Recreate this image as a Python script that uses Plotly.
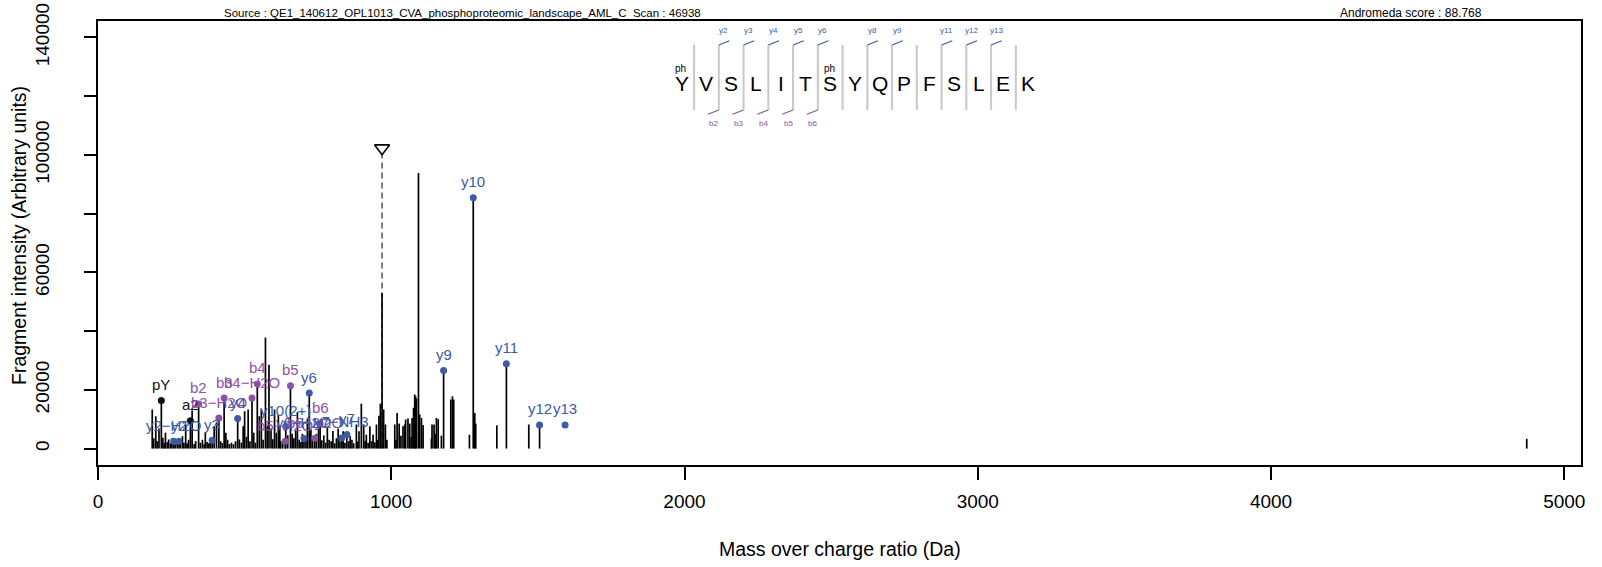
import plotly.graph_objects as go

# ---------------- data ----------------
title_left = "Source : QE1_140612_OPL1013_CVA_phosphoproteomic_landscape_AML_C  Scan : 46938"
title_right = "Andromeda score : 88.768"
x_title = "Mass over charge ratio (Da)"
y_title = "Fragment intensity (Arbitrary units)"

x_tickvals = [0, 1000, 2000, 3000, 4000, 5000]
x_ticktext = ["0", "1000", "2000", "3000", "4000", "5000"]
y_tickvals = [0, 20000, 40000, 60000, 80000, 100000, 120000, 140000]
y_ticktext = ["0", "20000", "", "60000", "", "100000", "", "140000"]

# raw spectrum peaks (m/z, intensity)
peaks_mz = [
    185, 190, 197, 202, 208, 216.0, 221, 226, 230, 236, 241, 247, 252, 258.1, 263, 270,
    276.2, 281, 288, 293, 299, 304, 309, 315.1, 321, 328, 333, 343.1, 349, 356, 362, 366,
    372, 378, 383, 389.2, 396, 404, 412.1, 418, 424, 430.1, 436, 442, 448, 455, 462, 469,
    476.3, 482, 489, 495, 500, 506, 512, 518, 525.2, 531, 537, 543.2, 550, 557, 563, 571,
    577, 583, 590, 596, 602, 608, 615, 620, 623.3, 630, 638.3, 640.3, 647, 656.3, 662, 668,
    674, 680, 686, 692, 697, 702.4, 709, 714, 720.4, 726, 732, 739.3, 745, 752, 757.4, 763,
    770, 776, 782, 788, 795, 801, 807, 813, 819, 825, 831.4, 836, 842, 848.5, 855, 860,
    866, 872, 881, 885, 890, 898, 906, 911, 915, 921, 927, 933, 938, 944, 949.5, 954,
    958, 963, 974, 980, 985, 1012, 1016, 1020, 1027, 1033, 1040, 1046, 1049, 1057,
    1063, 1068, 1071, 1076, 1080, 1083, 1086, 1092.8, 1097, 1103, 1108.5, 1137, 1139, 1146,
    1150, 1154, 1160, 1171, 1178.5, 1203, 1208.7, 1213, 1266.6, 1279.6, 1284.7, 1288, 1360,
    1392.6, 1469, 1505.7, 4872,
]
peaks_int = [
    13300, 3500, 11000, 2500, 6800, 16400, 3700, 2000, 5400, 2200, 3100, 1800, 3500, 2500, 1500, 2200,
    2500, 3000, 4200, 2000, 8200, 1800, 3000, 9500, 13000, 1600, 2500, 15200, 2000, 3000, 1500, 5400,
    2200, 1800, 2600, 2800, 7600, 8900, 10400, 2500, 1900, 17200, 5400, 3000, 1500, 2000, 1500, 2500,
    10200, 3100, 2000, 7600, 12700, 4000, 13300, 2500, 17200, 5400, 2000, 22000, 11000, 13300, 3000, 37800,
    7600, 28500, 6800, 3200, 13300, 5400, 11500, 7600, 2500, 2800, 2500, 7500, 4500, 21400, 5000, 3500,
    6000, 12400, 3000, 2200, 5000, 3400, 2600, 10000, 18900, 6500, 3000, 3500, 5000, 6800, 8500, 2800,
    4500, 2000, 7500, 3000, 2500, 6000, 1800, 3500, 6800, 2500, 3600, 5900, 2000, 4800, 2500, 4200,
    3000, 1800, 8200, 2400, 5900, 15300, 8200, 2600, 4700, 2000, 7600, 2500, 4700, 2100, 8200, 3000,
    11200, 15300, 13300, 8200, 3000, 8200, 3000, 12100, 8500, 4400, 7600, 8200, 9900, 10200,
    8500, 4000, 10400, 13900, 18400, 17800, 17000, 93800, 11600, 10400, 8000, 3500, 8200, 8200,
    5000, 10400, 10000, 4400, 26600, 16700, 17800, 16700, 4700, 85400, 12100, 8500, 7900,
    28900, 8200, 8060, 3300,
]

# precursor
precursor_mz = 968.6
precursor_int = 53000
precursor_marker_int = 102300
precursor_dash_top = 100500

# annotated fragment ions
ion_labels = ["pY", "a2", "b2", "b3\u2212H2O", "b3", "b4\u2212H2O", "b4", "b5\u2212H2O", "b5",
              "b6\u2212H2O", "b6", "y2\u2212H2O", "y2", "y3", "y4", "y10(2+)", "y6\u2212H2O", "y6",
              "y7\u2212NH3", "y7", "y9", "y10", "y11", "y12", "y13"]
ion_mz = [216.0, 315.1, 343.1, 412.1, 430.1, 525.2, 543.2, 638.3, 656.3,
          739.3, 757.4, 258.1, 276.2, 389.2, 476.3, 640.3, 702.4, 720.4,
          831.4, 848.5, 1178.5, 1279.6, 1392.6, 1505.7, 1592.8]
ion_int = [16400, 9500, 15200, 10400, 17200, 17200, 22000, 2500, 21400,
           3500, 8500, 2500, 2500, 2800, 10200, 7500, 3400, 18900,
           3600, 4800, 26600, 85400, 28900, 8060, 8060]
ion_type = ["other", "other", "b", "b", "b", "b", "b", "b", "b",
            "b", "b", "y", "y", "y", "y", "y", "y", "y",
            "y", "y", "y", "y", "y", "y", "y"]

# peptide sequence graphic
sequence = ["Y", "V", "S", "L", "I", "T", "S", "Y", "Q", "P", "F", "S", "L", "E", "K"]
phospho_pos = [0, 6]
y_ion_gaps = [2, 3, 4, 5, 6, 8, 9, 11, 12, 13]
b_ion_gaps = [2, 3, 4, 5, 6]

# ---------------- style ----------------
BLUE = "#3D5AA6"
PURPLE = "#8E52A5"
colors = {"y": BLUE, "b": PURPLE, "other": "#111111"}
FONT = "Liberation Sans, Arial, Helvetica, sans-serif"
NARROW = "Liberation Sans Narrow, Arial Narrow, Liberation Sans, sans-serif"

W, H = 1602, 567
L, R, T, B = 98, 21, 21, 102
PW, PH = W - L - R, H - T - B


def pxx(px):
    return (px - L) / PW


def pyy(py):
    return (H - B - py) / PH


fig = go.Figure()

# spectrum lines
lx, ly = [], []
for m, i in zip(peaks_mz, peaks_int):
    lx += [m, m, None]
    ly += [0, i, None]
fig.add_trace(go.Scatter(x=lx, y=ly, mode="lines", line=dict(color="black", width=1.7),
                         hoverinfo="skip"))

# precursor dashed line + marker
fig.add_trace(go.Scatter(x=[precursor_mz, precursor_mz], y=[0, precursor_dash_top], mode="lines",
                         line=dict(color="#555555", width=1.5, dash="6px,4px"), hoverinfo="skip"))
fig.add_trace(go.Scatter(x=[precursor_mz, precursor_mz], y=[0, precursor_int], mode="lines",
                         line=dict(color="black", width=1.7), hoverinfo="skip"))
fig.add_trace(go.Scatter(x=[precursor_mz], y=[precursor_marker_int], mode="markers",
                         marker=dict(symbol="triangle-down-open", size=13, color="black",
                                     line=dict(width=1.6, color="black"))))

# ion dots
fig.add_trace(go.Scatter(x=ion_mz, y=ion_int, mode="markers",
                         marker=dict(size=7, color=[colors[t] for t in ion_type]),
                         hoverinfo="skip"))

annotations = []
for lab, m, i, t in zip(ion_labels, ion_mz, ion_int, ion_type):
    annotations.append(dict(x=m, y=i, xref="x", yref="y", text=lab, showarrow=False,
                            yshift=16, xanchor="center", yanchor="middle",
                            font=dict(family=FONT, size=15, color=colors[t])))

# sequence graphic
SEQ_X0, SEQ_STEP = 681.7, 24.75
LET_Y, PH_Y = 83.5, 68
SEP_TOP, SEP_BOT = 45, 110
shapes = []
for k, aa in enumerate(sequence):
    cx = SEQ_X0 + k * SEQ_STEP
    annotations.append(dict(x=pxx(cx), y=pyy(LET_Y), xref="paper", yref="paper", text=aa,
                            showarrow=False, xanchor="center", yanchor="middle",
                            font=dict(family=FONT, size=21, color="black")))
    if k in phospho_pos:
        annotations.append(dict(x=pxx(cx - 1), y=pyy(PH_Y), xref="paper", yref="paper", text="ph",
                                showarrow=False, xanchor="center", yanchor="middle",
                                font=dict(family=FONT, size=10, color="black")))
for g in range(1, len(sequence)):
    gx = SEQ_X0 + (g - 0.5) * SEQ_STEP
    shapes.append(dict(type="line", xref="paper", yref="paper", x0=pxx(gx), x1=pxx(gx),
                       y0=pyy(SEP_TOP), y1=pyy(SEP_BOT), line=dict(color="#c8c8c8", width=2)))
    if g in y_ion_gaps:
        shapes.append(dict(type="line", xref="paper", yref="paper", x0=pxx(gx), x1=pxx(gx + 10.7),
                           y0=pyy(SEP_TOP), y1=pyy(SEP_TOP - 4.3), line=dict(color=BLUE, width=1.2)))
        annotations.append(dict(x=pxx(gx + 5), y=pyy(30.7), xref="paper", yref="paper",
                                text="y%d" % g, showarrow=False, xanchor="center", yanchor="middle",
                                font=dict(family=FONT, size=8, color=BLUE)))
    if g in b_ion_gaps:
        shapes.append(dict(type="line", xref="paper", yref="paper", x0=pxx(gx), x1=pxx(gx - 11),
                           y0=pyy(SEP_BOT), y1=pyy(SEP_BOT + 4.3), line=dict(color=PURPLE, width=1.2)))
        annotations.append(dict(x=pxx(gx - 5), y=pyy(124), xref="paper", yref="paper",
                                text="b%d" % g, showarrow=False, xanchor="center", yanchor="middle",
                                font=dict(family=FONT, size=8, color=PURPLE)))

# titles
annotations.append(dict(x=pxx(222), y=pyy(13), xref="paper", yref="paper", text=title_left,
                        showarrow=False, xanchor="left", yanchor="middle",
                        font=dict(family=NARROW, size=11.5, color="black")))
annotations.append(dict(x=pxx(1484), y=pyy(13), xref="paper", yref="paper", text=title_right,
                        showarrow=False, xanchor="right", yanchor="middle",
                        font=dict(family=NARROW, size=12, color="black")))
annotations.append(dict(x=pxx((L + W - R) / 2), y=pyy(549), xref="paper", yref="paper", text=x_title,
                        showarrow=False, xanchor="center", yanchor="middle",
                        font=dict(family=FONT, size=19.5, color="black")))
annotations.append(dict(x=pxx(19), y=pyy(236), xref="paper", yref="paper", text=y_title,
                        showarrow=False, xanchor="center", yanchor="middle", textangle=-90,
                        font=dict(family=FONT, size=19.5, color="black")))

fig.update_layout(
    width=W, height=H, autosize=False, margin=dict(l=L, r=R, t=T, b=B, pad=0, autoexpand=False),
    plot_bgcolor="white", paper_bgcolor="white", showlegend=False,
    font=dict(family=FONT, size=19, color="black"),
    annotations=annotations, shapes=shapes,
    xaxis=dict(range=[0, 5057], tickvals=x_tickvals, ticktext=x_ticktext, ticks="outside",
               ticklen=13, tickwidth=1.6, tickcolor="black", showline=True, linecolor="black",
               linewidth=1.8, mirror=True, showgrid=False, zeroline=False, automargin=False,
               tickfont=dict(size=19), ticklabelstandoff=5),
    yaxis=dict(range=[-5600, 145600], tickvals=y_tickvals, ticktext=y_ticktext, ticks="outside",
               ticklen=12, tickwidth=1.6, tickcolor="black", showline=True, linecolor="black",
               linewidth=1.8, mirror=True, showgrid=False, zeroline=False, tickangle=-90,
               automargin=False, tickfont=dict(size=19), ticklabelstandoff=28),
)

fig.write_html("out.html", config={"displayModeBar": False},
               post_script="document.body.style.margin='0';")
